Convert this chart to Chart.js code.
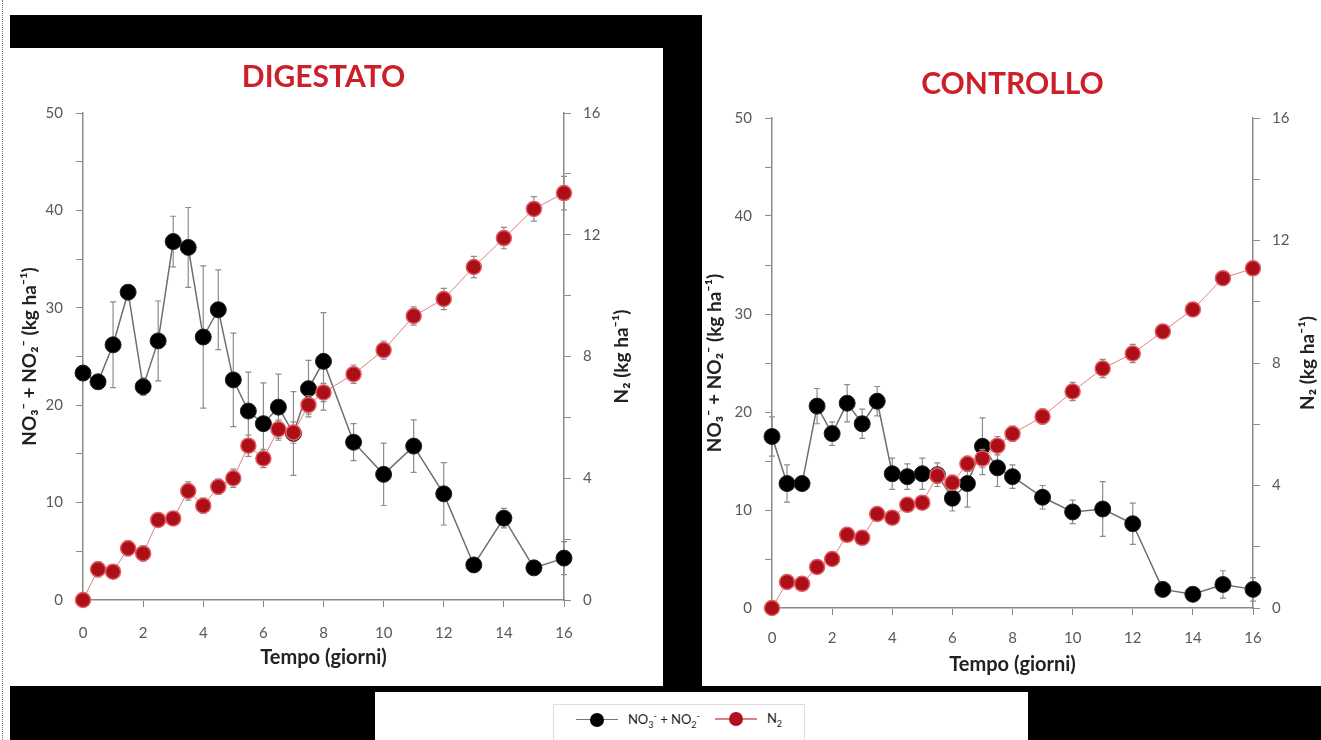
<!DOCTYPE html>
<html>
<head>
<meta charset="utf-8">
<title>Digestato / Controllo</title>
<script src="https://cdn.jsdelivr.net/npm/chart.js@4.4.0/dist/chart.umd.min.js"></script>
<style>
  body { margin: 0; width: 1321px; height: 740px; overflow: hidden; background: #fff; position: relative; font-family: Lato, "Open Sans", sans-serif; }
  .blk { position: absolute; background: #000; }
  .panel { position: absolute; }
  #edge { position: absolute; left: 2px; top: 0; height: 740px; border-left: 1px dotted #777; }
  #legendBox { position: absolute; left: 375px; top: 692px; width: 653px; height: 48px; background: #fff; }
  #legendInner { position: absolute; left: 178px; top: 12px; width: 252px; height: 40px; border: 1px solid #ddd; border-bottom: none;
                 display: flex; align-items: flex-start; justify-content: center; padding-top: 5px; box-sizing: border-box; font-size: 13px; color: #222; }
  .item { display: flex; align-items: center; }
  .item + .item { margin-left: 15px; }
  .key { position: relative; width: 42px; height: 14px; margin-right: 10px; }
  .key .ln { position: absolute; left: 0; top: 6px; width: 42px; height: 1.5px; background: #777; }
  .key .dot { position: absolute; left: 14px; top: 0; width: 14px; height: 14px; border-radius: 50%; }
  sub, sup { font-size: 9px; }
</style>
</head>
<body>
<div id="edge"></div>

<div class="panel" style="left:10px; top:48px; width:653px; height:637px;"><canvas id="digChart"></canvas></div>
<div class="panel" style="left:702px; top:0px; width:619px; height:686px;"><canvas id="conChart"></canvas></div>

<div class="blk" style="left:10px; top:15px; width:690px; height:33px;"></div>
<div class="blk" style="left:663px; top:15px; width:39px; height:671px;"></div>
<div class="blk" style="left:10px; top:686px; width:1311px; height:54px;"></div>

<div id="legendBox">
  <div id="legendInner">
    <div class="item"><span class="key"><span class="ln"></span><span class="dot" style="background:#000;"></span></span><span>NO<sub>3</sub><sup>-</sup> + NO<sub>2</sub><sup>-</sup></span></div>
    <div class="item"><span class="key"><span class="ln" style="background:#d98080;"></span><span class="dot" style="background:#b0101a;"></span></span><span>N<sub>2</sub></span></div>
  </div>
</div>

<script>
// sampling days
const days = [0, 0.5, 1, 1.5, 2, 2.5, 3, 3.5, 4, 4.5, 5, 5.5, 6, 6.5, 7, 7.5, 8, 9, 10, 11, 12, 13, 14, 15, 16];

// DIGESTATO
const digNox    = [23.3, 22.4, 26.2, 31.6, 21.9, 26.6, 36.8, 36.2, 27.0, 29.8, 22.6, 19.4, 18.1, 19.8, 17.1, 21.7, 24.5, 16.2, 12.9, 15.8, 10.9, 3.6, 8.4, 3.3, 4.3];
const digNoxErr = [0, 0, 4.4, 0, 0.9, 4.1, 2.6, 4.1, 7.3, 4.1, 4.8, 4.0, 4.2, 3.4, 4.3, 2.9, 5.0, 1.9, 3.2, 2.7, 3.2, 0, 1.0, 0, 1.7];
const digN2     = [0, 1.01, 0.93, 1.70, 1.53, 2.63, 2.68, 3.58, 3.10, 3.72, 4.0, 5.07, 4.65, 5.61, 5.50, 6.41, 6.82, 7.42, 8.21, 9.33, 9.89, 10.94, 11.89, 12.85, 13.37];
const digN2Err  = [0, 0.25, 0.2, 0.25, 0.25, 0.2, 0.2, 0.3, 0.25, 0.25, 0.3, 0.35, 0.3, 0.3, 0.35, 0.3, 0.3, 0.3, 0.3, 0.3, 0.35, 0.35, 0.35, 0.4, 0.55];

// CONTROLLO
const conNox    = [17.5, 12.7, 12.7, 20.6, 17.8, 20.9, 18.8, 21.1, 13.7, 13.4, 13.7, 13.6, 11.2, 12.7, 16.5, 14.3, 13.4, 11.3, 9.8, 10.1, 8.6, 1.9, 1.4, 2.4, 1.9];
const conNoxErr = [2.0, 1.9, 0, 1.8, 1.2, 1.9, 1.5, 1.5, 1.6, 1.3, 1.6, 1.2, 1.3, 2.4, 2.9, 1.9, 1.2, 1.2, 1.2, 2.8, 2.1, 0, 0, 1.4, 1.2];
const conN2     = [0, 0.85, 0.79, 1.34, 1.60, 2.39, 2.29, 3.07, 2.95, 3.37, 3.44, 4.32, 4.09, 4.71, 4.88, 5.30, 5.69, 6.25, 7.07, 7.82, 8.31, 9.03, 9.75, 10.77, 11.09];
const conN2Err  = [0, 0.15, 0.15, 0.15, 0.15, 0.15, 0.15, 0.2, 0.2, 0.2, 0.2, 0.25, 0.25, 0.25, 0.3, 0.3, 0.25, 0.25, 0.3, 0.3, 0.3, 0.15, 0.15, 0.15, 0.15];

const leftTicks  = [0, 10, 20, 30, 40, 50];
const rightTicks = [0, 4, 8, 12, 16];

const axisGrey = '#8a8a8a';
const labelGrey = '#595959';
const titleRed = '#cc1f2a';

function pts(vals) {
    return days.map((d, i) => ({ x: d, y: vals[i] }));
}

// vertical error bars, drawn under each dataset's markers
const errorBars = {
    id: 'errorBars',
    beforeDatasetDraw(chart, args) {
        const ds = chart.data.datasets[args.index];
        if (!ds.errors) return;
        const yScale = chart.scales[args.meta.yAxisID];
        const ctx = chart.ctx;
        ctx.save();
        ctx.strokeStyle = '#8c8c8c';
        ctx.lineWidth = 1.2;
        args.meta.data.forEach((pt, i) => {
            const e = ds.errors[i];
            if (!e) return;
            const v = ds.data[i].y;
            const top = yScale.getPixelForValue(v + e);
            const bot = yScale.getPixelForValue(v - e);
            ctx.beginPath();
            ctx.moveTo(pt.x, top); ctx.lineTo(pt.x, bot);
            ctx.moveTo(pt.x - 3, top); ctx.lineTo(pt.x + 3, top);
            ctx.moveTo(pt.x - 3, bot); ctx.lineTo(pt.x + 3, bot);
            ctx.stroke();
        });
        ctx.restore();
    }
};

// right axis title reads bottom-to-top, so draw it ourselves
function sideTitle(text, x) {
    return {
        id: 'sideTitle',
        afterDraw(chart) {
            const s = chart.scales.y2;
            const ctx = chart.ctx;
            ctx.save();
            ctx.translate(x, (s.top + s.bottom) / 2);
            ctx.rotate(-Math.PI / 2);
            ctx.font = 'bold 19px Lato';
            ctx.fillStyle = '#222';
            ctx.textAlign = 'center';
            ctx.textBaseline = 'middle';
            ctx.fillText(text, 0, 0);
            ctx.restore();
        }
    };
}

function buildChart(id, title, nox, noxErr, n2, n2Err, lay) {
    const font = { family: 'Lato', size: 15 };
    return new Chart(document.getElementById(id), {
        type: 'line',
        data: {
            datasets: [{
                label: 'N₂',
                data: pts(n2),
                errors: n2Err,
                yAxisID: 'y2',
                order: 0,
                borderColor: '#d98080',
                borderWidth: 1,
                pointBackgroundColor: '#ad0f18',
                pointBorderColor: '#e05a60',
                pointBorderWidth: 1.5,
                pointRadius: 7.5,
                clip: false
            }, {
                label: 'NO₃⁻ + NO₂⁻',
                data: pts(nox),
                errors: noxErr,
                yAxisID: 'y',
                order: 1,
                borderColor: '#6e6e6e',
                borderWidth: 1.5,
                pointBackgroundColor: '#000',
                pointBorderColor: '#222',
                pointBorderWidth: 1,
                pointRadius: 8,
                clip: false
            }]
        },
        options: {
            responsive: true,
            maintainAspectRatio: false,
            animation: false,
            events: [],
            layout: { padding: 0 },
            plugins: {
                legend: { display: false },
                tooltip: { enabled: false },
                title: {
                    display: true,
                    text: title,
                    color: titleRed,
                    fullSize: false,
                    font: { family: 'Lato', size: 30, weight: 'bold' },
                    padding: { top: lay.titleTop, bottom: lay.titleBottom }
                }
            },
            scales: {
                x: {
                    type: 'linear',
                    min: 0,
                    max: 16,
                    afterFit: s => { s.height = lay.xH; },
                    ticks: { stepSize: 2, color: labelGrey, font: font, padding: lay.xPad, maxRotation: 0 },
                    grid: { drawOnChartArea: false, color: axisGrey, tickLength: 7 },
                    border: { color: axisGrey, width: 1.5 },
                    title: {
                        display: true,
                        text: 'Tempo (giorni)',
                        color: '#222',
                        font: { family: 'Lato', size: 20, weight: 'bold' },
                        padding: { top: 0, bottom: lay.xTitlePad }
                    }
                },
                y: {
                    position: 'left',
                    min: 0,
                    max: 50,
                    afterFit: s => { s.width = lay.yW; },
                    ticks: {
                        stepSize: 5,
                        color: labelGrey,
                        font: font,
                        padding: 13,
                        callback: v => leftTicks.includes(v) ? v : ''
                    },
                    grid: { drawOnChartArea: false, color: axisGrey, tickLength: 7 },
                    border: { color: axisGrey, width: 1.5 },
                    title: {
                        display: true,
                        text: 'NO₃⁻ + NO₂⁻ (kg ha⁻¹)',
                        color: '#222',
                        font: { family: 'Lato', size: 19, weight: 'bold' },
                        padding: { top: lay.yTitlePad, bottom: 0 }
                    }
                },
                y2: {
                    position: 'right',
                    min: 0,
                    max: 16,
                    afterFit: s => { s.width = lay.y2W; },
                    ticks: {
                        stepSize: 2,
                        color: labelGrey,
                        font: font,
                        padding: 12,
                        callback: v => rightTicks.includes(v) ? v : ''
                    },
                    grid: { drawOnChartArea: false, color: axisGrey, tickLength: 7 },
                    border: { color: axisGrey, width: 1.5 }
                }
            }
        },
        plugins: [errorBars, sideTitle('N₂ (kg ha⁻¹)', lay.sideX)]
    });
}

buildChart('digChart', 'DIGESTATO', digNox, digNoxErr, digN2, digN2Err, {
    titleTop: 11, titleBottom: 18, xH: 85, xPad: 17, xTitlePad: 15,
    yW: 73, y2W: 99, yTitlePad: 8.6, sideX: 612
});

buildChart('conChart', 'CONTROLLO', conNox, conNoxErr, conN2, conN2Err, {
    titleTop: 66, titleBottom: 16, xH: 78, xPad: 14, xTitlePad: 9,
    yW: 70, y2W: 68, yTitlePad: 1.6, sideX: 606
});
</script>
</body>
</html>
